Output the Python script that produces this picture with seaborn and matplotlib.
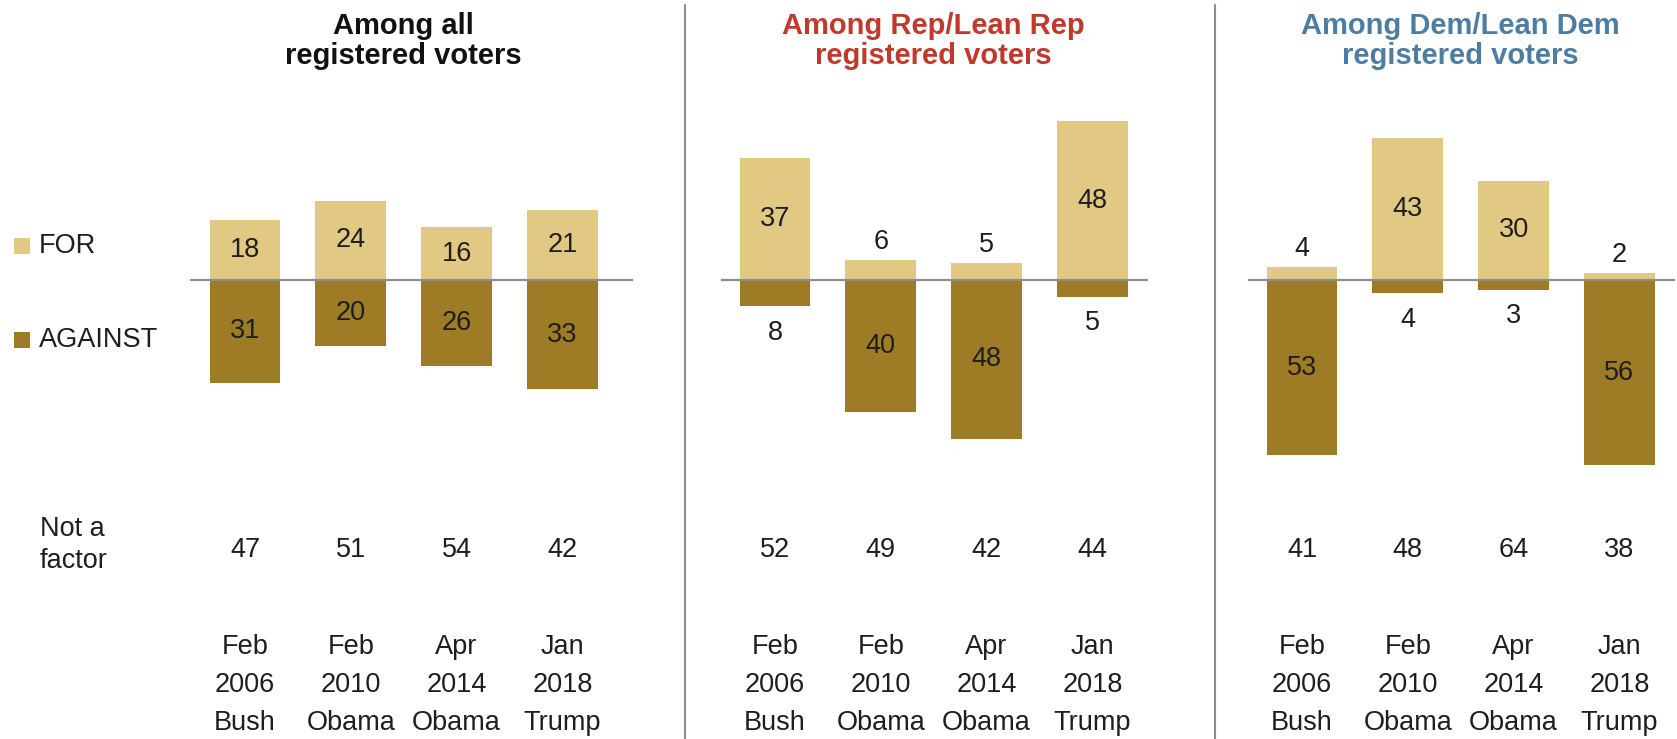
import matplotlib
matplotlib.use("Agg")
import matplotlib.pyplot as plt
from matplotlib.lines import Line2D
from matplotlib.patches import Rectangle
import seaborn as sns
import pandas as pd

# ==============================
# Data
# ==============================

DATES = ["Feb\n2006\nBush", "Feb\n2010\nObama", "Apr\n2014\nObama", "Jan\n2018\nTrump"]
TITLES = [
    "Among all\nregistered voters",
    "Among Rep/Lean Rep\nregistered voters",
    "Among Dem/Lean Dem\nregistered voters",
]

FOR_ALL = [18, 24, 16, 21]
AGAINST_ALL = [31, 20, 26, 33]
NOT_FACTOR_ALL = [47, 51, 54, 42]

FOR_REP = [37, 6, 5, 48]
AGAINST_REP = [8, 40, 48, 5]
NOT_FACTOR_REP = [52, 49, 42, 44]

FOR_DEM = [4, 43, 30, 2]
AGAINST_DEM = [53, 4, 3, 56]
NOT_FACTOR_DEM = [41, 48, 64, 38]

# ==============================
# Layout / style
# ==============================

W, H = 1677, 739
ZERO_PX = 280          # y pixel of the zero line
PX_PER_PT = 3.31       # pixels per percentage point
AX_BOTTOM_PX = 628     # bottom of the plotting area
STEP_PX = 105.8        # distance between bars
BAR_WIDTH = 0.67
NOT_FACTOR_PX = 550

# first bar centre, zero line start, zero line end (pixels)
PANELS = [(245, 190, 633), (775, 721, 1148), (1302, 1248, 1675)]
DIVIDERS = [685, 1215]

FOR_COLOR = "#E2C983"
AGAINST_COLOR = "#9E7C25"
LINE_COLOR = "#8E8E8E"
TEXT_COLOR = "#1E1E1E"
TITLE_COLORS = ["#111111", "#C0392B", "#4D7DA3"]

FONT_SIZE = 19.5


def px_to_fig_y(py):
    return 1 - py / H


def draw_panel(fig, idx, for_vals, against_vals, not_factor):
    c0, x0, x1 = PANELS[idx]
    ax = fig.add_axes([x0 / W, px_to_fig_y(AX_BOTTOM_PX), (x1 - x0) / W, AX_BOTTOM_PX / H])

    df = pd.DataFrame({
        "date": DATES,
        "for": for_vals,
        "against": [-v for v in against_vals],
    })

    sns.barplot(data=df, x="date", y="for", color=FOR_COLOR, width=BAR_WIDTH,
                saturation=1, linewidth=0, ax=ax)
    sns.barplot(data=df, x="date", y="against", color=AGAINST_COLOR, width=BAR_WIDTH,
                saturation=1, linewidth=0, ax=ax)

    ax.set_xlim((x0 - c0) / STEP_PX, (x1 - c0) / STEP_PX)
    ax.set_ylim(-(AX_BOTTOM_PX - ZERO_PX) / PX_PER_PT, ZERO_PX / PX_PER_PT)
    ax.axhline(0, color=LINE_COLOR, lw=1.6, zorder=3)

    # value labels: inside the bar when it is tall enough, outside otherwise
    for i, (f, a) in enumerate(zip(for_vals, against_vals)):
        if f >= 10:
            ax.text(i, f / 2, str(f), ha="center", va="center",
                    fontsize=FONT_SIZE, color=TEXT_COLOR)
        else:
            ax.annotate(str(f), (i, f), xytext=(0, 13), textcoords="offset points",
                        ha="center", va="center", fontsize=FONT_SIZE, color=TEXT_COLOR)
        if a >= 10:
            ax.text(i, -a / 2, str(a), ha="center", va="center",
                    fontsize=FONT_SIZE, color=TEXT_COLOR)
        else:
            ax.annotate(str(a), (i, -a), xytext=(0, -19), textcoords="offset points",
                        ha="center", va="center", fontsize=FONT_SIZE, color=TEXT_COLOR)

    # "Not a factor" row
    y_nf = -(NOT_FACTOR_PX - ZERO_PX) / PX_PER_PT
    for i, v in enumerate(not_factor):
        ax.text(i, y_nf, str(v), ha="center", va="center",
                fontsize=FONT_SIZE, color=TEXT_COLOR)

    ax.set_xlabel("")
    ax.set_ylabel("")
    ax.set_yticks([])
    ax.tick_params(axis="x", length=0, pad=4, labelsize=FONT_SIZE, labelcolor=TEXT_COLOR)
    for label in ax.get_xticklabels():
        label.set_linespacing(1.62)
    sns.despine(ax=ax, left=True, bottom=True)
    ax.patch.set_alpha(0)

    # panel title
    centre = c0 + 1.5 * STEP_PX
    fig.text(centre / W, px_to_fig_y(41), TITLES[idx], ha="center", va="center",
             fontsize=21, fontweight="bold", color=TITLE_COLORS[idx], linespacing=1.12)

    return ax


def main():
    sns.set_theme(style="white")
    plt.rcParams["font.family"] = ["Liberation Sans", "DejaVu Sans"]

    fig = plt.figure(figsize=(W / 100, H / 100), dpi=100)
    fig.patch.set_facecolor("white")

    draw_panel(fig, 0, FOR_ALL, AGAINST_ALL, NOT_FACTOR_ALL)
    draw_panel(fig, 1, FOR_REP, AGAINST_REP, NOT_FACTOR_REP)
    draw_panel(fig, 2, FOR_DEM, AGAINST_DEM, NOT_FACTOR_DEM)

    # vertical dividers
    for x in DIVIDERS:
        fig.add_artist(Line2D([x / W, x / W], [px_to_fig_y(5), 0],
                              transform=fig.transFigure, color=LINE_COLOR, lw=1.5))

    # legend
    for (label, colour, y) in [("FOR", FOR_COLOR, 246), ("AGAINST", AGAINST_COLOR, 340)]:
        fig.add_artist(Rectangle((14 / W, px_to_fig_y(y + 8)), 16 / W, 16 / H,
                                 transform=fig.transFigure, color=colour, lw=0))
        fig.text(39 / W, px_to_fig_y(y), label, ha="left", va="center",
                 fontsize=FONT_SIZE, color=TEXT_COLOR)

    fig.text(40 / W, px_to_fig_y(545), "Not a\nfactor", ha="left", va="center",
             fontsize=FONT_SIZE, color=TEXT_COLOR, linespacing=1.32)

    fig.savefig("out.png", dpi=100)
    plt.close(fig)


if __name__ == "__main__":
    main()
